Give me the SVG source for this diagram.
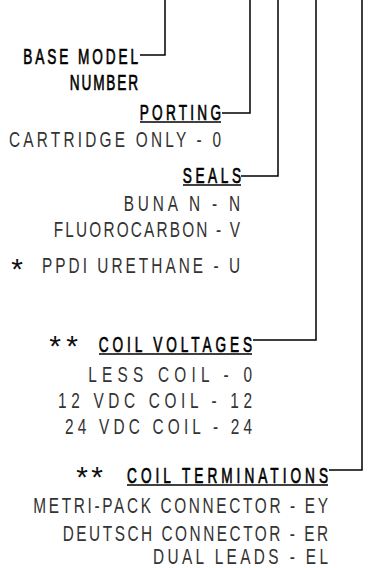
<svg xmlns="http://www.w3.org/2000/svg" width="378" height="568" viewBox="0 0 378 568">
<style>
text{font-family:"Liberation Sans",Arial,sans-serif;font-size:22px;text-anchor:end}
.h{fill:#000;stroke:#000;stroke-width:0.7}
.o{fill:#333}
.s{fill:#111;font-size:30px}
.c{fill:none;stroke:#000;stroke-width:1.5}
.u{stroke:#000;stroke-width:1.6}
</style>
<rect width="378" height="568" fill="#fff"/>
<g id="connectors" class="c">
<polyline points="140,55 165,55 165,0"/>
<polyline points="222,113 250,113 250,0"/>
<polyline points="241,176 278,176 278,0"/>
<polyline points="253,340 316,340 316,0"/>
<polyline points="329,470 362,470 362,0"/>
</g>
<g id="base-model">
<text class="h" transform="translate(138,64) scale(0.62,1)" textLength="185" lengthAdjust="spacing">BASE MODEL</text>
<text class="h" transform="translate(138,90) scale(0.62,1)" textLength="110" lengthAdjust="spacing">NUMBER</text>
</g>
<g id="porting">
<text class="h" transform="translate(221,120) scale(0.62,1)" textLength="131" lengthAdjust="spacing">PORTING</text>
<line class="u" x1="140" y1="122" x2="221" y2="122"/>
<text class="o" transform="translate(221,147) scale(0.7,1)" textLength="303" lengthAdjust="spacing">CARTRIDGE ONLY - 0</text>
</g>
<g id="seals">
<text class="h" transform="translate(241,183) scale(0.62,1)" textLength="94" lengthAdjust="spacing">SEALS</text>
<line class="u" x1="183" y1="185" x2="241" y2="185"/>
<text class="o" transform="translate(240,211) scale(0.7,1)" textLength="166" lengthAdjust="spacing">BUNA N - N</text>
<text class="o" transform="translate(240,237) scale(0.7,1)" textLength="266" lengthAdjust="spacing">FLUOROCARBON - V</text>
<text class="s" x="23" y="279">*</text>
<text class="o" transform="translate(240,273) scale(0.7,1)" textLength="283" lengthAdjust="spacing">PPDI URETHANE - U</text>
</g>
<g id="coil-voltages">
<text class="s" x="61" y="356">*</text>
<text class="s" x="78" y="356">*</text>
<text class="h" transform="translate(252,352) scale(0.62,1)" textLength="247" lengthAdjust="spacing">COIL VOLTAGES</text>
<line class="u" x1="99" y1="354" x2="252" y2="354"/>
<text class="o" transform="translate(252,382) scale(0.7,1)" textLength="234" lengthAdjust="spacing">LESS COIL -  0</text>
<text class="o" transform="translate(252,408) scale(0.7,1)" textLength="277" lengthAdjust="spacing">12 VDC COIL - 12</text>
<text class="o" transform="translate(252,434) scale(0.7,1)" textLength="267" lengthAdjust="spacing">24 VDC COIL - 24</text>
</g>
<g id="coil-terminations">
<text class="s" x="88" y="487">*</text>
<text class="s" x="103" y="487">*</text>
<text class="h" transform="translate(328,483) scale(0.62,1)" textLength="324" lengthAdjust="spacing">COIL TERMINATIONS</text>
<line class="u" x1="127" y1="485" x2="328" y2="485"/>
<text class="o" transform="translate(328,513) scale(0.7,1)" textLength="421" lengthAdjust="spacing">METRI-PACK CONNECTOR - EY</text>
<text class="o" transform="translate(328,541) scale(0.7,1)" textLength="379" lengthAdjust="spacing">DEUTSCH CONNECTOR - ER</text>
<text class="o" transform="translate(328,564) scale(0.7,1)" textLength="250" lengthAdjust="spacing">DUAL LEADS - EL</text>
</g>
</svg>
